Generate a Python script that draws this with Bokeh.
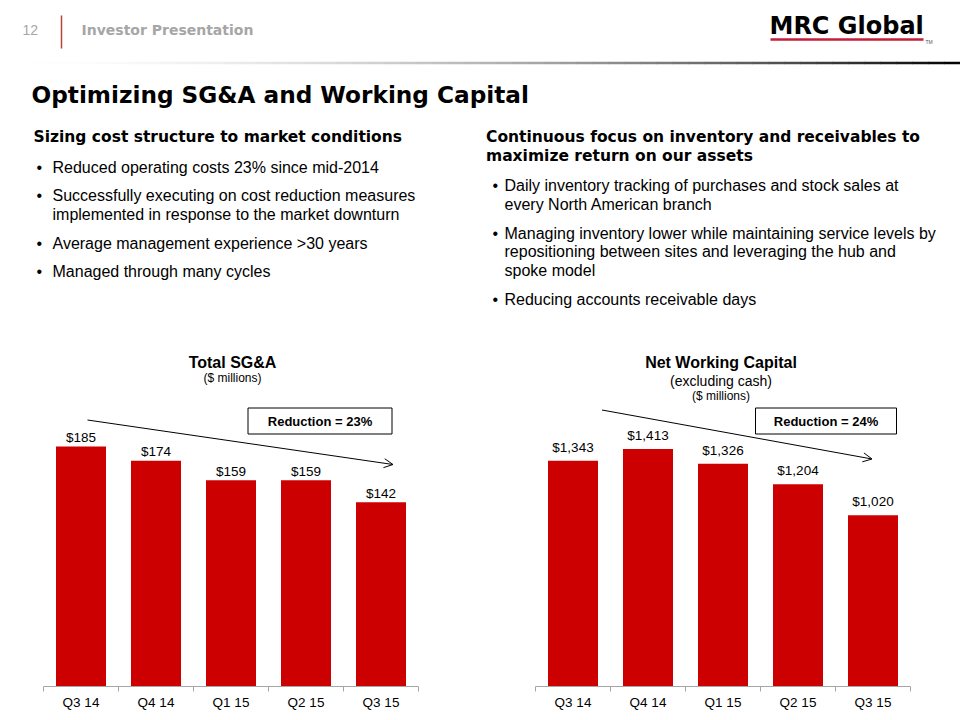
from bokeh.plotting import figure
from bokeh.layouts import column, row
from bokeh.models import Range1d, FixedTicker, Arrow, OpenHead, LinearAxis
from bokeh.core.properties import value
from bokeh.embed import file_html
from bokeh.resources import INLINE

# ---------------- data ----------------
categories = ["Q3 14", "Q4 14", "Q1 15", "Q2 15", "Q3 15"]
sga_values = [185, 174, 159, 159, 142]
nwc_values = [1343, 1413, 1326, 1204, 1020]
sga_title = ["Total SG&A", "($ millions)"]
nwc_title = ["Net Working Capital", "(excluding cash)", "($ millions)"]
sga_note = "Reduction = 23%"
nwc_note = "Reduction = 24%"

slide_title = "Optimizing SG&A and Working Capital"
left_heading = ["Sizing cost structure to market conditions"]
left_bullets = [
    ["Reduced operating costs 23% since mid-2014"],
    ["Successfully executing on cost reduction measures",
     "implemented in response to the market downturn"],
    ["Average management experience >30 years"],
    ["Managed through many cycles"],
]
right_heading = ["Continuous focus on inventory and receivables to",
                 "maximize return on our assets"]
right_bullets = [
    ["Daily inventory tracking of purchases and stock sales at",
     "every North American branch"],
    ["Managing inventory lower while maintaining service levels by",
     "repositioning between sites and leveraging the hub and",
     "spoke model"],
    ["Reducing accounts receivable days"],
]

# ---------------- style ----------------
BODY = "Liberation Sans"
HEAVY = "DejaVu Sans"
RED = "#cc0000"
GRAY = "#a6a6a6"
W = 960
H_HEAD = 330
H_CHART = 390
BASE_Y = 686           # baseline of the bars (page px)

# ---------------- header figure ----------------
head = figure(width=W, height=H_HEAD, x_range=Range1d(0, W), y_range=Range1d(H_HEAD, 0),
              output_backend="svg", toolbar_location=None, x_axis_type=None, y_axis_type=None,
              min_border=0, outline_line_color=None, background_fill_color="white")


def htext(x, y, txt, size, font=BODY, bold=False, color="#000000", align="left"):
    head.text(x=[x], y=[y], text=[txt], text_font=value(font), text_font_size=size,
              text_font_style="bold" if bold else "normal", text_color=color,
              text_align=align, text_baseline="middle")


# top bar
htext(22, 29.5, "12", "14px", color=GRAY)
head.segment(x0=[61], y0=[15], x1=[61], y1=[48], line_color="#b8423c", line_width=1.5)
htext(81, 29.5, "Investor Presentation", "14px", font=HEAVY, bold=True, color=GRAY)

# gradient separator
n = 60
seg_w = 960 / n
xs0 = [i * seg_w for i in range(n)]
xs1 = [(i + 1) * seg_w + 0.5 for i in range(n)]
cols = []
for i in range(n):
    t = (i + 0.5) / n
    g = int(round(255 * (1 - t ** 1.8)))
    cols.append("#%02x%02x%02x" % (g, g, g))
head.segment(x0=xs0, y0=[62.5] * n, x1=xs1, y1=[62.5] * n, line_color=cols, line_width=2.5)

# logo
htext(769, 25, "MRC Global", "24px", font=HEAVY, bold=True, color="#000000")
head.segment(x0=[770], y0=[39], x1=[923], y1=[39], line_color="#c41e3a", line_width=2.5)
htext(925, 41, "TM", "5px", color="#555555")

# title
htext(31, 93.5, slide_title, "23.2px", font=HEAVY, bold=True)

# left column
y = 136
for ln in left_heading:
    htext(33, y, ln, "15.5px", font=HEAVY, bold=True)
    y += 19.5
y = 166.5
for b in left_bullets:
    htext(36, y, "\u2022", "16px")
    for ln in b:
        htext(52, y, ln, "16px")
        y += 19
    y += 9.5

# right column
y = 136
for ln in right_heading:
    htext(485.5, y, ln, "15.5px", font=HEAVY, bold=True)
    y += 19.7
y = 185
for b in right_bullets:
    htext(492, y, "\u2022", "16px")
    for ln in b:
        htext(504, y, ln, "16px")
        y += 18.8
    y += 10


# ---------------- bar charts ----------------
def bar_chart(vals, fig_x, border_left, y_end, titles, title_ys, title_sizes, note, note_box,
              arrow_pts, label_off):
    nc = len(categories)
    frame_left_ref = fig_x + border_left
    frame_h = BASE_Y - H_HEAD
    ppu = frame_h / y_end        # pixels per unit
    cat_px = 375.0 / nc

    def dx(px):
        return (px - frame_left_ref) / cat_px

    def dy(py):
        return (BASE_Y - py) / ppu

    p = figure(width=480, height=H_CHART, x_range=Range1d(0, nc), y_range=Range1d(0, y_end),
               output_backend="svg", toolbar_location=None, x_axis_type=None, y_axis_type=None,
               min_border_left=border_left, min_border_right=480 - border_left - 375,
               min_border_top=0, min_border_bottom=H_CHART - frame_h,
               outline_line_color=None, background_fill_color="white")
    xs = [i + 0.5 for i in range(nc)]
    ax = LinearAxis(ticker=FixedTicker(ticks=xs, minor_ticks=list(range(nc + 1))),
                    major_label_overrides={x: c for x, c in zip(xs, categories)})
    ax.axis_line_color = GRAY
    ax.axis_line_width = 1
    ax.major_tick_line_color = None
    ax.major_tick_in = 0
    ax.major_tick_out = 5
    ax.minor_tick_line_color = GRAY
    ax.minor_tick_in = 0
    ax.minor_tick_out = 5
    ax.major_label_standoff = 3
    ax.major_label_text_font = BODY
    ax.major_label_text_font_size = "13.5px"
    ax.major_label_text_color = "#000000"
    p.add_layout(ax, "below")

    p.vbar(x=xs, top=vals, width=50.0 / cat_px, bottom=0, fill_color=RED, line_color=None)
    p.text(x=xs, y=vals, text=["${:,}".format(v) for v in vals], text_font=value(BODY),
           text_font_size="13.5px", text_align="center", text_baseline="middle",
           y_offset=-label_off, text_color="#000000")

    cx = titles[0]
    for (txt, bold), ty, ts in zip(titles[1], title_ys, title_sizes):
        p.text(x=[dx(cx)], y=[dy(ty)], text=[txt], text_font=value(BODY), text_font_size=ts,
               text_font_style="bold" if bold else "normal", text_align="center",
               text_baseline="middle", text_color="#000000")

    (ax0, ay0), (ax1, ay1) = arrow_pts
    p.add_layout(Arrow(end=OpenHead(size=9, line_width=1, line_color="black"),
                       x_start=dx(ax0), y_start=dy(ay0), x_end=dx(ax1), y_end=dy(ay1),
                       line_color="black", line_width=1))

    l, r, t, b = note_box
    p.quad(left=[dx(l)], right=[dx(r)], top=[dy(t)], bottom=[dy(b)], fill_color="white",
           line_color="black", line_width=1)
    p.text(x=[(dx(l) + dx(r)) / 2], y=[(dy(t) + dy(b)) / 2], text=[note], text_font=value(BODY),
           text_font_size="13px", text_font_style="bold", text_align="center",
           text_baseline="middle", text_color="#000000")
    return p


left = bar_chart(sga_values, 0, 43, 274.3,
                 (232, [(sga_title[0], True), (sga_title[1], False)]),
                 [361.7, 377.5], ["16px", "12px"],
                 sga_note, (247.5, 391.5, 407.5, 433.5),
                 ((87, 419.5), (392.5, 464)), 9)
right = bar_chart(nwc_values, 480, 55, 2119.0,
                  (720.5, [(nwc_title[0], True), (nwc_title[1], False), (nwc_title[2], False)]),
                  [361.7, 380, 395], ["16px", "14px", "12px"],
                  nwc_note, (755, 896, 407.5, 433.5),
                  ((601.5, 409.5), (871.5, 458.5)), 13.5)

layout = column(head, row(left, right, spacing=0), spacing=0)

html = file_html(layout, INLINE, "Optimizing SG&A and Working Capital")
with open("out.html", "w") as f:
    f.write(html)
